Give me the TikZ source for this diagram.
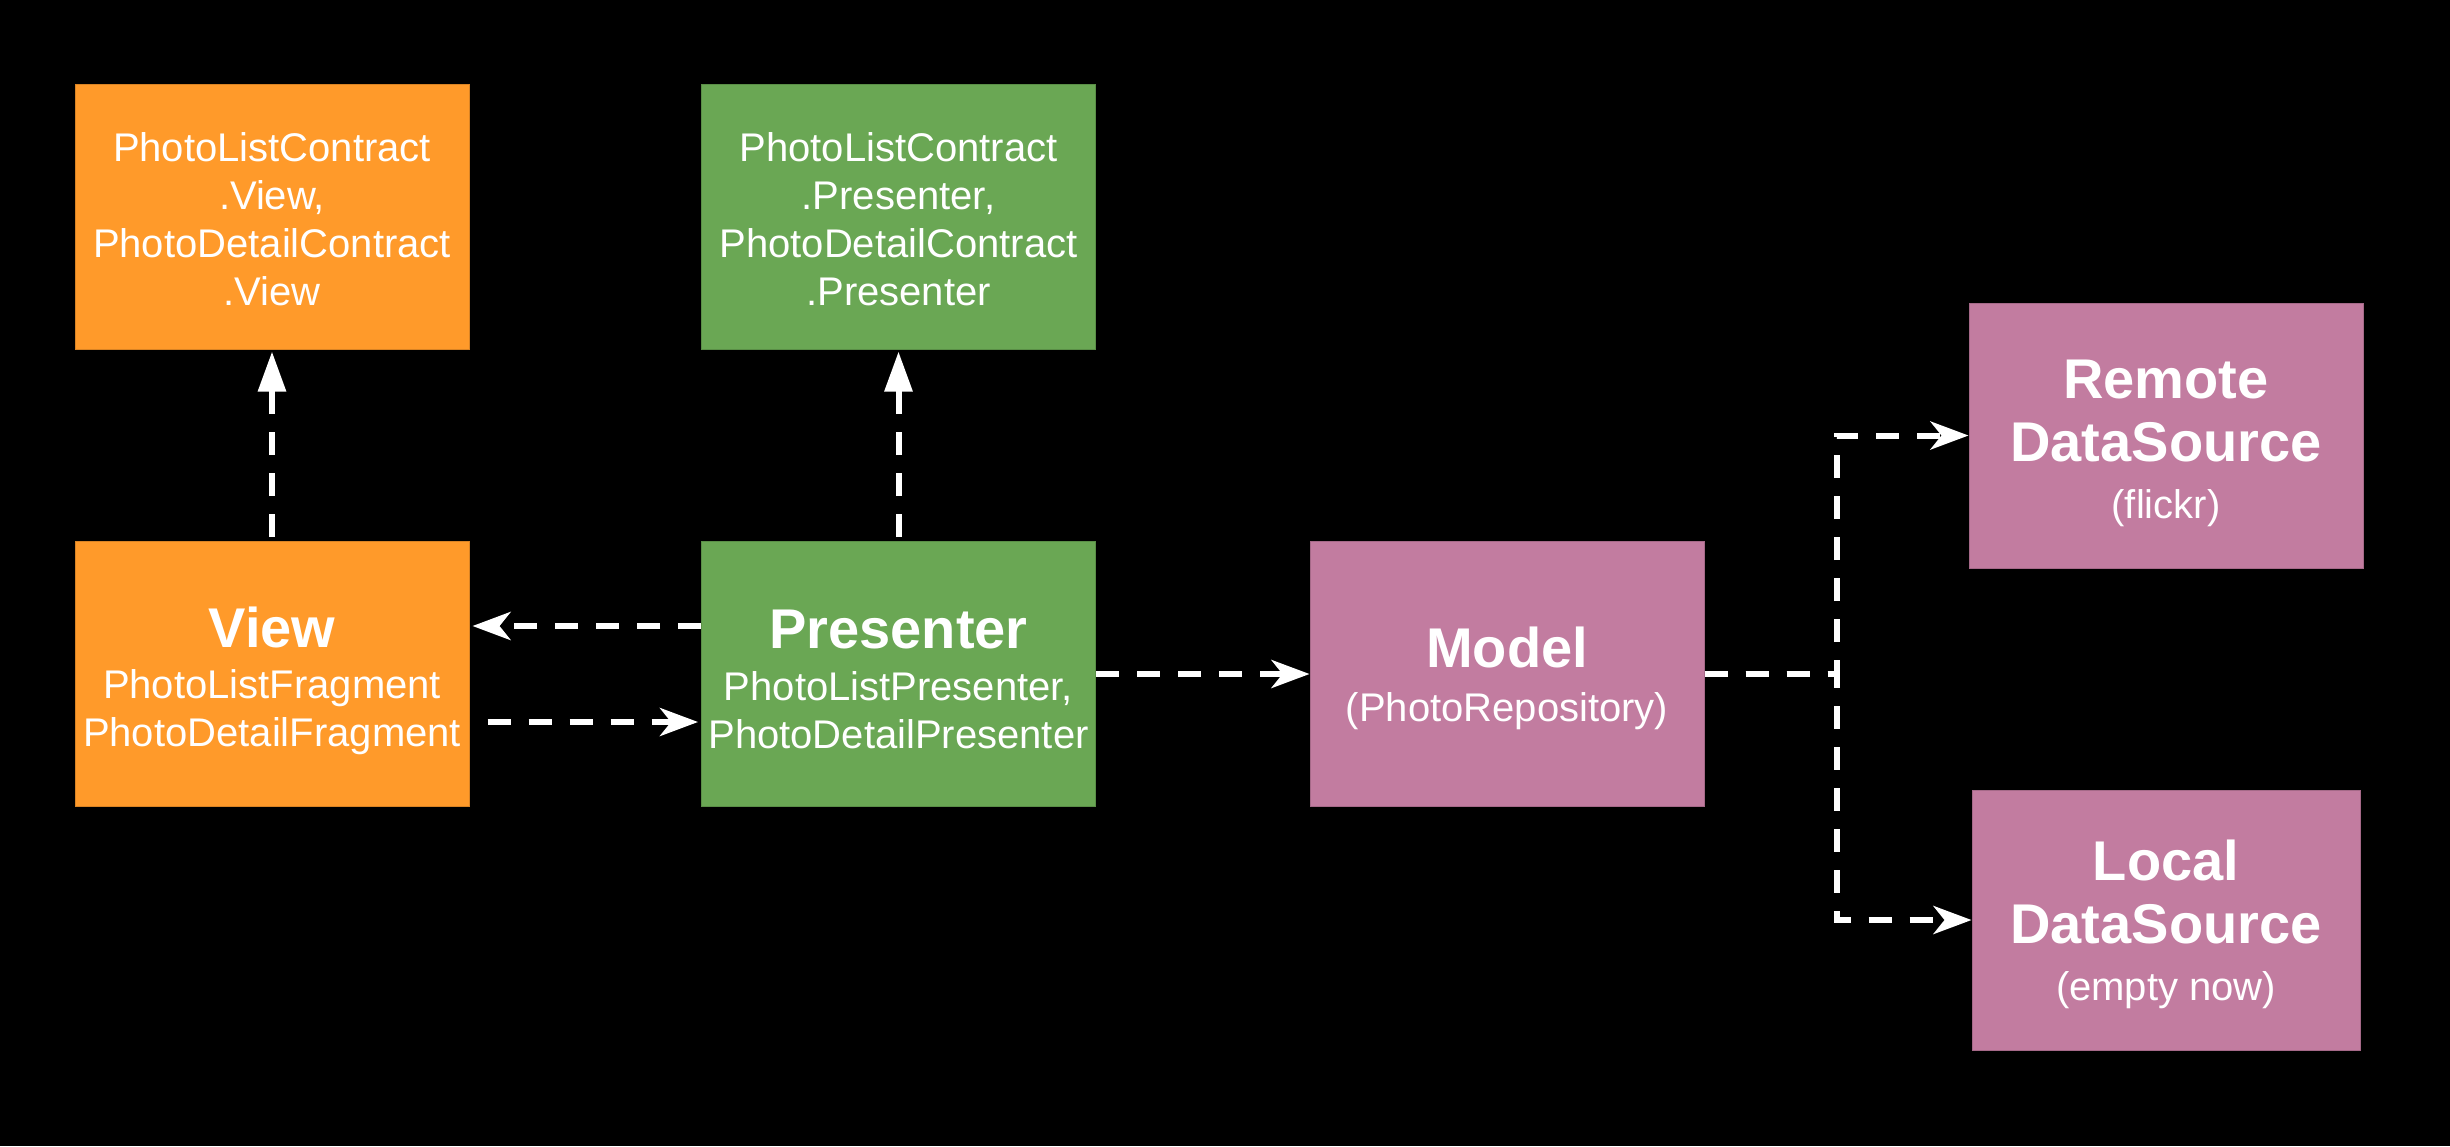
\documentclass[tikz,border=0pt]{standalone}
\usepackage{fontspec}
\setmainfont{Liberation Sans}
\usetikzlibrary{arrows.meta,calc}
\definecolor{orng}{HTML}{FF9A2A}
\definecolor{grn}{HTML}{6AA754}
\definecolor{pnk}{HTML}{C27CA0}
\newcommand{\mvttl}[1]{{\fontsize{28}{33}\selectfont\bfseries #1}}
\newcommand{\mvup}[1]{\rule{0pt}{#1}}
\begin{document}
\begin{tikzpicture}[x=0.5pt,y=-0.5pt,
  box/.style={rectangle, minimum width=197pt, minimum height=132.5pt, inner sep=0pt,
    text=white, align=center, font=\fontsize{20}{24}\selectfont, line width=0.5pt},
  obox/.style={box, fill=orng, draw=orng!85!black},
  gbox/.style={box, fill=grn, draw=grn!85!black},
  pbox/.style={box, fill=pnk, draw=pnk!85!black},
  dep/.style={draw=white, line width=3pt, dash pattern=on 11.5pt off 9pt,
    -{Stealth[length=19pt,width=14pt,inset=5.5pt]}},
  real/.style={draw=white, line width=3pt, dash pattern=on 11.5pt off 9pt,
    -{Triangle[length=20pt,width=13.5pt]}}
]
\useasboundingbox (0,0) rectangle (2450,1146);
\fill[black] (0,0) rectangle (2450,1146);

\node[obox] (vc) at (272,216.5) {\mvup{17.5pt}PhotoListContract\\.View,\\PhotoDetailContract\\.View};
\node[gbox] (pc) at (898.5,216.5) {\mvup{17.5pt}PhotoListContract\\.Presenter,\\PhotoDetailContract\\.Presenter};
\node[obox] (view) at (272,674) {\mvup{27.3pt}\mvttl{View}\\[1.5pt]PhotoListFragment\\PhotoDetailFragment};
\node[gbox] (pres) at (898.5,674) {\mvup{24.3pt}\mvttl{Presenter}\\[2pt]PhotoListPresenter,\\PhotoDetailPresenter};
\node[pbox] (model) at (1507,674) {\mvup{24.3pt}\mvttl{Model}\\[3pt](PhotoRepository)};
\node[pbox] (remote) at (2166,435.5) {\mvup{27.3pt}\mvttl{Remote}\\[7.5pt]\mvttl{DataSource}\\[4.5pt](flickr)};
\node[pbox, minimum width=194pt, minimum height=130pt] (local) at (2166,920) {\mvup{25pt}\mvttl{Local}\\[7.5pt]\mvttl{DataSource}\\[4.5pt](empty now)};

\draw[real, shorten <=2pt, shorten >=1pt] (view.north) -- (vc.south);
\draw[real, shorten <=2pt, shorten >=1pt] (pres.north) -- (pc.south);
\draw[dep, shorten >=1.5pt] ($(pres.west)+(0,-48)$) -- ($(view.east)+(0,-48)$);
\draw[dep, shorten <=9pt, shorten >=1.5pt] ($(view.east)+(0,48)$) -- ($(pres.west)+(0,48)$);
\draw[dep] (pres.east) -- (model.west);
\draw[dep] (model.east) -- ++(132,0) |- (remote.west);
\draw[dep] (model.east) -- ++(132,0) |- (local.west);
\end{tikzpicture}
\end{document}
